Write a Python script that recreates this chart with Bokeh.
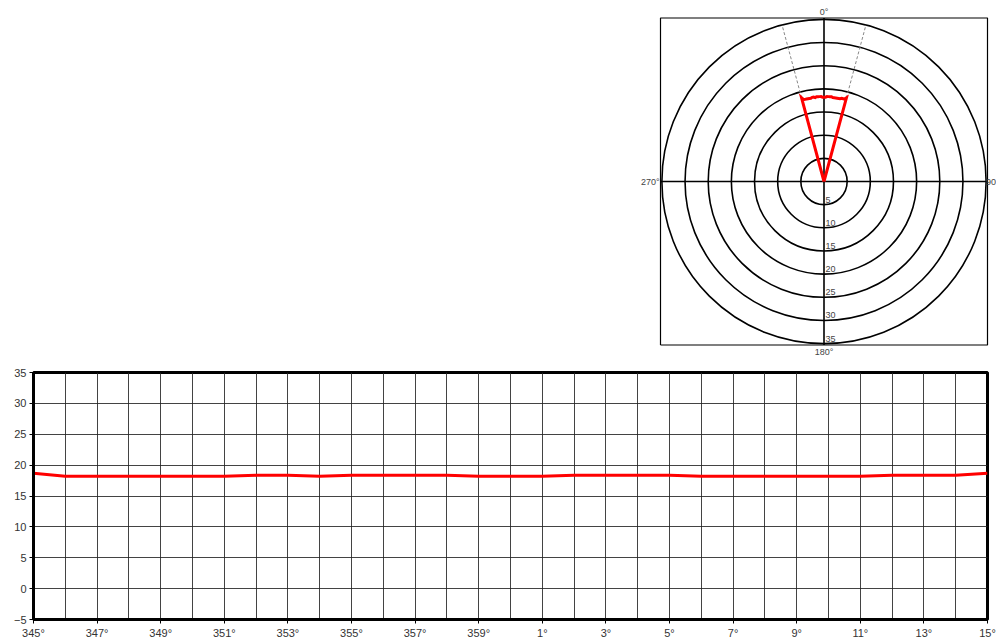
import math

from bokeh.embed import file_html
from bokeh.layouts import column
from bokeh.models import FixedTicker, Label, Range1d
from bokeh.plotting import figure
from bokeh.resources import INLINE

# Bearing offsets from north (degrees) and the measured level at each bearing
bearing = [-15, -14, -13, -12, -11, -10, -9, -8, -7, -6, -5, -4, -3, -2, -1, 0,
           1, 2, 3, 4, 5, 6, 7, 8, 9, 10, 11, 12, 13, 14, 15]
level = [18.7, 18.2, 18.2, 18.2, 18.2, 18.2, 18.2, 18.35, 18.35, 18.2, 18.35, 18.35,
         18.35, 18.35, 18.2, 18.2, 18.2, 18.35, 18.35, 18.35, 18.35, 18.2, 18.2, 18.2,
         18.2, 18.2, 18.2, 18.35, 18.35, 18.35, 18.7]

# Polar rings and their labels
ring_radii = [5, 10, 15, 20, 25, 30, 35]
ring_labels = ["5", "10", "15", "20", "25", "30", "35"]
compass_labels = ["0°", "90", "180°", "270°"]

# Cartesian axes
x_tick_vals = [-15, -13, -11, -9, -7, -5, -3, -1, 1, 3, 5, 7, 9, 11, 13, 15]
x_tick_labels = ["345°", "347°", "349°", "351°", "353°", "355°", "357°", "359°",
                 "1°", "3°", "5°", "7°", "9°", "11°", "13°", "15°"]
y_tick_vals = [-5, 0, 5, 10, 15, 20, 25, 30, 35]

FONT = "Liberation Sans"
RED = "#ff0000"
LABEL_GREY = "#444444"
SMALL = "9px"

# ---------------- polar view ----------------
# The frame spans the whole top-right area so that the compass labels
# around the square box are drawn inside it.
R = 35.3                       # half side of the square box
SCALE = 327.0 / (2 * R)        # pixels per unit
CX, CY = 183.5, 181.0          # centre, in pixels from the frame's top-left
FW, FH = 356, 362
X_END = (FW - CX) / SCALE
polar = figure(width=996, height=FH, output_backend="svg", toolbar_location=None,
               x_range=Range1d(-CX / SCALE, X_END),
               y_range=Range1d(-(FH - CY) / SCALE, CY / SCALE),
               min_border_left=996 - FW, min_border_right=0,
               min_border_top=0, min_border_bottom=0, frame_align=False)
polar.axis.visible = False
polar.grid.visible = False
polar.outline_line_color = None
polar.background_fill_color = "white"
polar.border_fill_color = "white"

# square box
polar.line(x=[-R, R, R, -R, -R], y=[-R, -R, R, R, -R], line_color="black",
           line_width=1.2)

for r in ring_radii:
    polar.circle(x=[0], y=[0], radius=r, fill_color=None, line_color="black",
                 line_width=1.6)

polar.line(x=[-R, R], y=[0, 0], line_color="black", line_width=1.6)
polar.line(x=[0, 0], y=[-R, R], line_color="black", line_width=1.6)

# dashed guides along the sector edges out to the outer ring
for idx in (0, len(bearing) - 1):
    th = math.radians(bearing[idx])
    r0 = level[idx]
    polar.line(x=[r0 * math.sin(th), ring_radii[-1] * math.sin(th)],
               y=[r0 * math.cos(th), ring_radii[-1] * math.cos(th)],
               line_color="#888888", line_width=1, line_dash="3 2")

# measured sector
px = [0.0] + [v * math.sin(math.radians(b)) for b, v in zip(bearing, level)] + [0.0]
py = [0.0] + [v * math.cos(math.radians(b)) for b, v in zip(bearing, level)] + [0.0]
polar.line(x=px, y=py, line_color=RED, line_width=3, line_join="miter")

for r, t in zip(ring_radii, ring_labels):
    polar.add_layout(Label(x=0, y=-r, text=t, x_offset=1.5, y_offset=2,
                           text_baseline="bottom", text_align="left",
                           text_font=FONT, text_font_size=SMALL,
                           text_color=LABEL_GREY))

polar.add_layout(Label(x=0, y=R, text=compass_labels[0], y_offset=1,
                       text_align="center", text_baseline="bottom",
                       text_font=FONT, text_font_size=SMALL, text_color=LABEL_GREY))
polar.add_layout(Label(x=X_END, y=0, text=compass_labels[1], x_offset=-0.5,
                       text_align="right", text_baseline="middle",
                       text_font=FONT, text_font_size=SMALL, text_color=LABEL_GREY))
polar.add_layout(Label(x=0, y=-R, text=compass_labels[2], y_offset=-2,
                       text_align="center", text_baseline="top",
                       text_font=FONT, text_font_size=SMALL, text_color=LABEL_GREY))
polar.add_layout(Label(x=-R, y=0, text=compass_labels[3], x_offset=-1,
                       text_align="right", text_baseline="middle",
                       text_font=FONT, text_font_size=SMALL, text_color=LABEL_GREY))

# ---------------- cartesian view ----------------
cart = figure(width=996, height=279, output_backend="svg", toolbar_location=None,
              x_range=Range1d(-15, 15), y_range=Range1d(-5, 35),
              min_border_left=33, min_border_right=9,
              min_border_top=10, min_border_bottom=21, frame_align=False)
cart.background_fill_color = "white"
cart.border_fill_color = "white"
cart.outline_line_color = "black"
cart.outline_line_width = 3

cart.xaxis.ticker = FixedTicker(ticks=x_tick_vals)
cart.xaxis.major_label_overrides = {v: t for v, t in zip(x_tick_vals, x_tick_labels)}
cart.yaxis.ticker = FixedTicker(ticks=y_tick_vals)
for ax in (cart.xaxis[0], cart.yaxis[0]):
    ax.axis_line_color = "black"
    ax.axis_line_width = 3
    ax.major_tick_in = 0
    ax.major_tick_out = 4
    ax.major_tick_line_color = "black"
    ax.minor_tick_line_color = None
    ax.major_label_text_font = FONT
    ax.major_label_text_font_size = "11px"
    ax.major_label_text_color = "#333333"
    ax.major_label_standoff = 3

cart.xgrid.ticker = FixedTicker(ticks=bearing)
cart.ygrid.ticker = FixedTicker(ticks=y_tick_vals)
cart.grid.grid_line_color = "#222222"
cart.grid.grid_line_width = 1
cart.grid.grid_line_alpha = 0.85

cart.line(x=bearing, y=level, line_color=RED, line_width=3)

page = column(polar, cart, spacing=0)
open("out.html", "w").write(file_html(page, INLINE))
